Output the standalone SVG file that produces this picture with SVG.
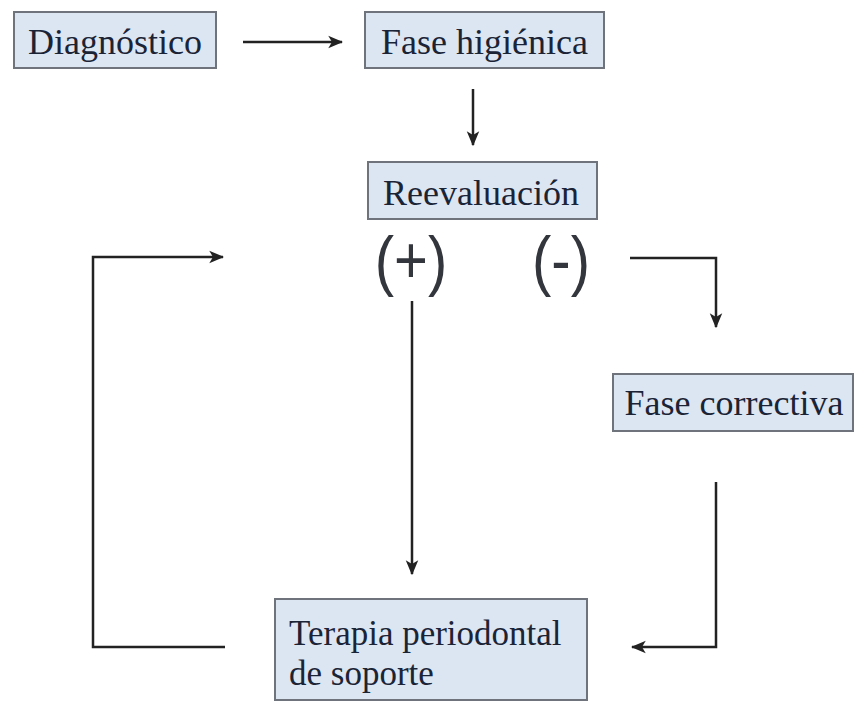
<svg xmlns="http://www.w3.org/2000/svg" width="856" height="702" viewBox="0 0 856 702">
  <defs>
    <style>
      .box { fill: #dce6f2; stroke: #6f747c; stroke-width: 2; }
      .label { font-family: "Liberation Serif", "Times New Roman", serif; font-size: 36px; fill: #1b2436; }
      .label.two-line { font-size: 35px; }
      .sign { font-family: "Liberation Sans", Arial, sans-serif; font-size: 58px; fill: #33363d; }
      .wire { fill: none; stroke: #222; stroke-width: 2.5; marker-end: url(#head); }
    </style>
    <marker id="head" viewBox="0 0 12 10" refX="11" refY="5" markerWidth="6" markerHeight="6" orient="auto" markerUnits="strokeWidth">
      <path d="M0,0 L12,5 L0,10 L3,5 z" fill="#222"/>
    </marker>
  </defs>
  <rect width="856" height="702" fill="#ffffff"/>

  <g id="diagnostico">
    <rect class="box" x="14" y="12" width="202" height="56"/>
    <text class="label" x="115" y="54" text-anchor="middle">Diagnóstico</text>
  </g>

  <g id="fase-higienica">
    <rect class="box" x="365" y="12" width="239" height="56"/>
    <text class="label" x="484.5" y="54" text-anchor="middle">Fase higiénica</text>
  </g>

  <g id="reevaluacion">
    <rect class="box" x="368" y="162" width="229" height="57"/>
    <text class="label" x="481" y="205" text-anchor="middle">Reevaluación</text>
  </g>

  <g id="positivo">
    <text class="sign" transform="translate(411,283) scale(1,1.15)" text-anchor="middle">(+)</text>
  </g>

  <g id="negativo">
    <text class="sign" transform="translate(561,283) scale(1,1.15)" text-anchor="middle">(-)</text>
  </g>

  <g id="fase-correctiva">
    <rect class="box" x="613" y="374" width="240" height="57"/>
    <text class="label" x="734" y="415" text-anchor="middle">Fase correctiva</text>
  </g>

  <g id="terapia-soporte">
    <rect class="box" x="275" y="599" width="312" height="101"/>
    <text class="label two-line" x="289" y="645">Terapia periodontal</text>
    <text class="label two-line" x="289" y="685">de soporte</text>
  </g>

  <g id="connectors">
    <path class="wire" d="M243,42 H342"/>
    <path class="wire" d="M473,89 V145"/>
    <path class="wire" d="M412,301 V574"/>
    <path class="wire" d="M630,258 H716 V327"/>
    <path class="wire" d="M716,482 V647 H632"/>
    <path class="wire" d="M225,647 H93 V257 H223"/>
  </g>
</svg>
